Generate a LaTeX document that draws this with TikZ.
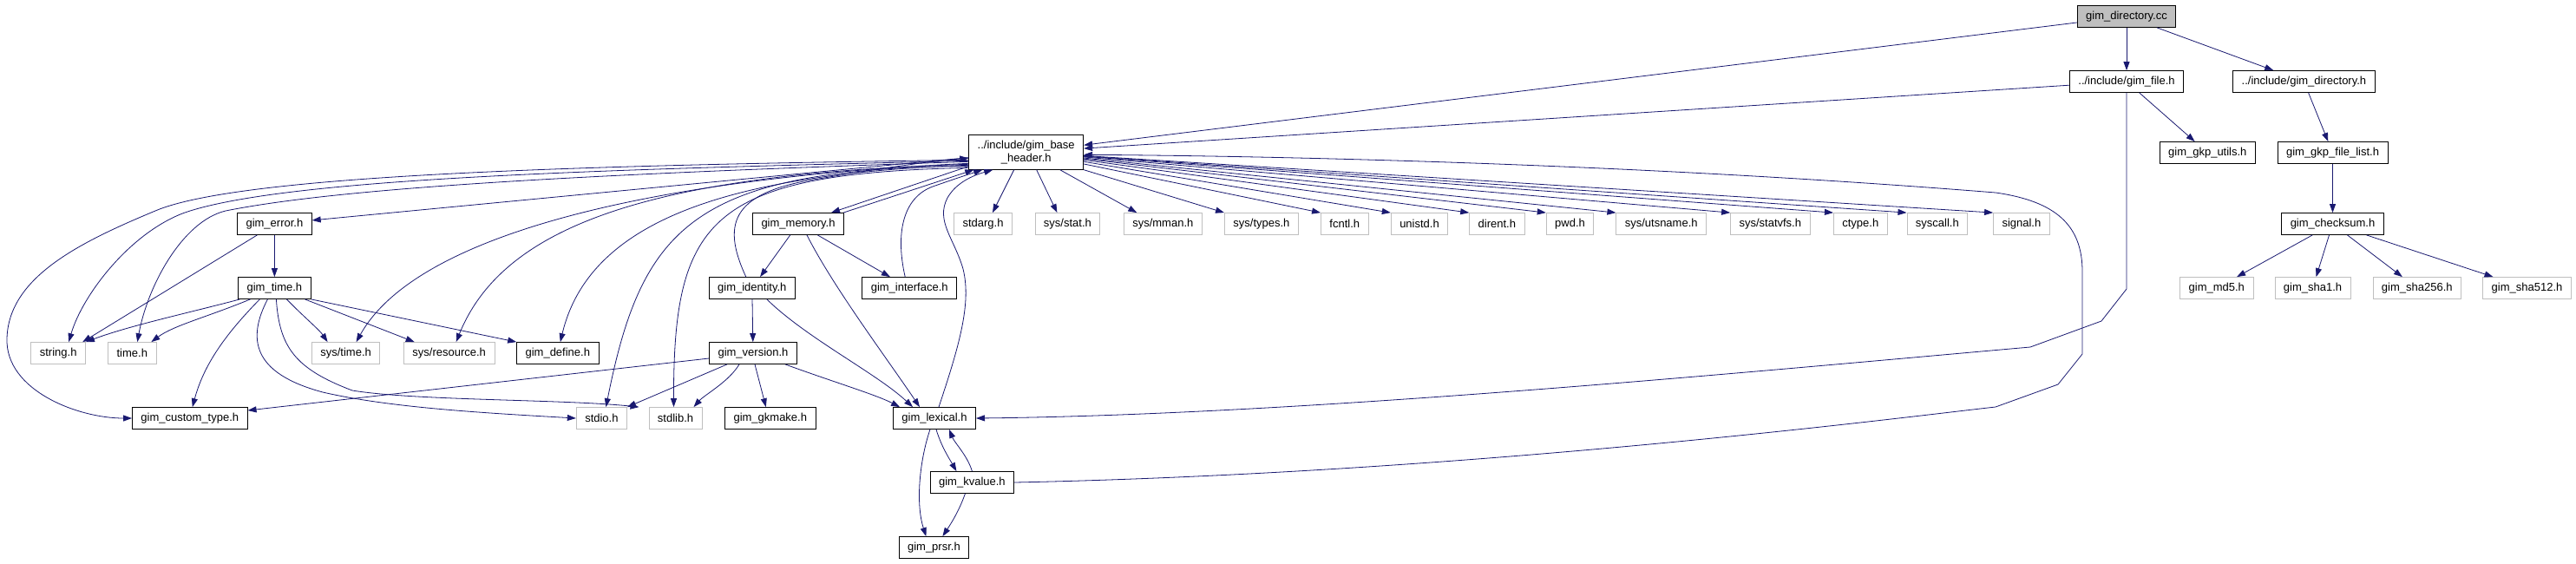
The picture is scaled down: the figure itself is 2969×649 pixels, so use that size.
\documentclass[tikz,border=0pt]{standalone}
\usepackage{fontspec}
\setmainfont{Liberation Sans}
\usetikzlibrary{arrows.meta}
\definecolor{edgeblue}{HTML}{191970}
\definecolor{grey75}{HTML}{BFBFBF}
\tikzset{
  hdr/.style={draw=black, line width=0.8pt, fill=white, inner xsep=10pt,
    inner ysep=0pt, minimum height=25pt, font=\fontsize{13}{15}\selectfont},
  syshdr/.style={hdr, draw=grey75},
  roothdr/.style={hdr, fill=grey75},
  dep/.style={draw=edgeblue, line width=0.8pt, -{Triangle[length=10pt,width=7pt]}},
}

\begin{document}
\begin{tikzpicture}[x=1pt,y=-1pt]
  \useasboundingbox (0,0) rectangle (2969,649);
  % Right part: the file itself and its own headers.
  \node[roothdr] (dircc) at (2451,19) {gim\_directory.cc};
  \node[hdr] (fileh) at (2451,94) {../include/gim\_file.h};
  \node[hdr] (dirh) at (2655.4,94) {../include/gim\_directory.h};
  \node[hdr] (gkputils) at (2544.3,176) {gim\_gkp\_utils.h};
  \node[hdr] (gkpfilelist) at (2688.5,176) {gim\_gkp\_file\_list.h};
  \node[hdr] (checksum) at (2688.5,258) {gim\_checksum.h};
  \node[syshdr] (md5) at (2554.8,332) {gim\_md5.h};
  \node[syshdr] (sha1) at (2665.5,332) {gim\_sha1.h};
  \node[syshdr] (sha256) at (2785.8,332) {gim\_sha256.h};
  \node[syshdr] (sha512) at (2912.5,332) {gim\_sha512.h};
  % The base header.
  \node[hdr, align=center, minimum height=40pt] (base) at (1182.7,175.3)
    {../include/gim\_base\\\_header.h};
  % Row under the base header.
  \node[hdr] (error) at (316.4,258) {gim\_error.h};
  \node[hdr] (memory) at (920,258) {gim\_memory.h};
  \node[syshdr] (stdarg) at (1133,258) {stdarg.h};
  \node[syshdr] (sysstat) at (1230.4,258) {sys/stat.h};
  \node[syshdr] (sysmman) at (1340.3,258) {sys/mman.h};
  \node[syshdr] (systypes) at (1453.9,258) {sys/types.h};
  \node[syshdr] (fcntl) at (1549.8,258) {fcntl.h};
  \node[syshdr] (unistd) at (1636,258) {unistd.h};
  \node[syshdr] (dirent) at (1725.3,258) {dirent.h};
  \node[syshdr] (pwd) at (1809.5,258) {pwd.h};
  \node[syshdr] (utsname) at (1914.7,258) {sys/utsname.h};
  \node[syshdr] (statvfs) at (2040.3,258) {sys/statvfs.h};
  \node[syshdr] (ctype) at (2144.3,258) {ctype.h};
  \node[syshdr] (syscall) at (2232.8,258) {syscall.h};
  \node[syshdr] (signal) at (2329.9,258) {signal.h};
  % Lower rows.
  \node[hdr] (gimtime) at (316.4,332) {gim\_time.h};
  \node[hdr] (identity) at (866.8,332) {gim\_identity.h};
  \node[hdr] (interface) at (1048.2,332) {gim\_interface.h};
  \node[syshdr] (stringh) at (67.2,407) {string.h};
  \node[syshdr] (timeh) at (152.3,407) {time.h};
  \node[syshdr] (systime) at (398.6,407) {sys/time.h};
  \node[syshdr] (sysres) at (517.7,407) {sys/resource.h};
  \node[hdr] (define) at (642.8,407) {gim\_define.h};
  \node[hdr] (version) at (868,407) {gim\_version.h};
  \node[hdr] (custom) at (218.8,482) {gim\_custom\_type.h};
  \node[syshdr] (stdio) at (693.4,482) {stdio.h};
  \node[syshdr] (stdlib) at (778.5,482) {stdlib.h};
  \node[hdr] (gkmake) at (887.8,482) {gim\_gkmake.h};
  \node[hdr] (lexical) at (1077,482) {gim\_lexical.h};
  \node[hdr] (kvalue) at (1120.4,556) {gim\_kvalue.h};
  \node[hdr] (prsr) at (1076.4,631) {gim\_prsr.h};

  % gim_directory.cc and the headers right of it.
  \draw[dep] (dircc) -- (base);
  \draw[dep] (dircc) -- (fileh);
  \draw[dep] (dircc) -- (dirh);
  \draw[dep] (fileh) -- (base);
  \draw[dep] (fileh) -- (gkputils);
  \draw[dep] (fileh.south) -- (2451,333) -- (2422,370) -- (2340,400)
    .. controls (2000,430) and (1500,478) .. (lexical.east);
  \draw[dep] (dirh) -- (gkpfilelist);
  \draw[dep] (gkpfilelist) -- (checksum);
  \foreach \n in {md5,sha1,sha256,sha512}
    \draw[dep] (checksum) -- (\n);

  % Base header to the system headers on its right.
  \draw[dep] ([xshift=-14pt]base.south) -- ([xshift=11pt]stdarg.north);
  \draw[dep] ([xshift=12pt]base.south) -- ([xshift=-12pt]sysstat.north);
  \draw[dep] ([xshift=39pt]base.south) -- ([xshift=-30pt]sysmman.north);
  \draw[dep] (base.south east) -- (systypes.north west);
  \foreach \n in {fcntl,unistd,dirent,pwd,utsname,statvfs,ctype,syscall,signal}
    \draw[dep] (base) -- (\n.north west);

  % Base header to the headers on its left.
  \draw[dep] ([yshift=-9pt]base.west) .. controls (700,190) and (280,200) .. (179,243)
    .. controls (90,280) and (10,320) .. (8,390)
    .. controls (6,450) and (90,482) .. (custom.west);
  \draw[dep] ([yshift=-10pt]base.west) .. controls (700,195) and (330,205) .. (213,245)
    .. controls (150,268) and (95,340) .. ([xshift=12pt]stringh.north);
  \draw[dep] ([yshift=-11pt]base.west) .. controls (700,200) and (400,215) .. (260,243)
    .. controls (210,255) and (170,330) .. ([xshift=6pt]timeh.north);
  \draw[dep] (base) -- (error);
  \draw[dep] ([yshift=-13pt]base.west) .. controls (750,205) and (480,270) .. ([xshift=12pt]systime.north);
  \draw[dep] ([yshift=-14pt]base.west) .. controls (750,200) and (580,260) .. ([xshift=8pt]sysres.north);
  \draw[dep] ([yshift=-15pt]base.west) .. controls (850,200) and (680,250) .. ([xshift=3pt]define.north);
  \draw[dep] ([yshift=-16pt]base.west) .. controls (800,195) and (740,260) .. ([xshift=5pt]stdio.north);
  \draw[dep] ([yshift=-18pt]base.west) .. controls (820,200) and (776,250) .. ([xshift=-2pt]stdlib.north);
  \draw[dep] ([yshift=4pt]base.south west) -- ([xshift=38pt]memory.north);

  % Headers that include the base header again.
  \draw[dep] ([xshift=52pt]memory.north) -- ([xshift=6pt]base.south west);
  \draw[dep] ([xshift=-5pt]interface.north) .. controls (1032,270) and (1040,228) .. (1075,215)
    .. controls (1095,208) and (1110,203) .. ([xshift=16pt]base.south west);
  \draw[dep] ([xshift=5pt]lexical.north) .. controls (1105,400) and (1120,350) .. (1110,310)
    .. controls (1100,275) and (1078,255) .. (1092,228)
    .. controls (1100,214) and (1115,204) .. ([xshift=28pt]base.south west);
  \draw[dep] ([xshift=-7pt]identity.north) .. controls (830,255) and (845,220) .. (950,205)
    .. controls (1020,193) and (1080,185) .. ([yshift=-7pt]base.west);
  \draw[dep] (kvalue.east) .. controls (1700,545) and (2200,480) .. (2300,469)
    -- (2372,443) -- (2400,408) -- (2400,313)
    .. controls (2400,260) and (2370,232) .. (2300,222)
    .. controls (1900,190) and (1500,180) .. ([yshift=-3pt]base.east);

  % gim_error.h and gim_time.h.
  \draw[dep] (error) -- (gimtime);
  \draw[dep] ([xshift=-20pt]error.south) -- ([xshift=28pt]stringh.north);
  \draw[dep] ([xshift=-40pt]gimtime.south) .. controls (220,360) and (150,375) .. (stringh.north east);
  \draw[dep] ([xshift=-28pt]gimtime.south) .. controls (240,365) and (200,375) .. ([xshift=-6pt]timeh.north east);
  \draw[dep] ([xshift=-17pt]gimtime.south) .. controls (260,385) and (235,420) .. ([xshift=3pt]custom.north);
  \draw[dep] ([xshift=-8pt]gimtime.south) .. controls (285,390) and (290,430) .. (372,452)
    .. controls (450,470) and (560,476) .. (stdio.west);
  \draw[dep] ([xshift=2pt]gimtime.south) .. controls (322,400) and (340,425) .. (406,450)
    .. controls (480,462) and (650,460) .. ([xshift=-42pt]stdlib.north);
  \draw[dep] ([xshift=14pt]gimtime.south) .. controls (350,365) and (368,380) .. ([xshift=-21pt]systime.north);
  \draw[dep] ([xshift=35pt]gimtime.south) -- ([xshift=-40pt]sysres.north);
  \draw[dep] (gimtime.south east) -- (define.north west);

  % gim_memory.h, gim_identity.h and gim_version.h.
  \draw[dep] (memory) -- (identity);
  \draw[dep] (memory) -- (interface);
  \draw[dep] ([xshift=10pt]memory.south) .. controls (960,330) and (1020,410) .. ([xshift=-17pt]lexical.north);
  \draw[dep] (identity) -- (version);
  \draw[dep] ([xshift=17pt]identity.south) .. controls (930,390) and (1010,430) .. ([xshift=-25pt]lexical.north);
  \draw[dep] ([yshift=-6pt]version.west) -- ([yshift=9pt]custom.east);
  \draw[dep] ([xshift=-30pt]version.south) -- (stdio.north east);
  \draw[dep] ([xshift=-16pt]version.south) .. controls (840,440) and (812,455) .. ([xshift=21pt]stdlib.north);
  \draw[dep] ([xshift=2pt]version.south) -- ([xshift=-5pt]gkmake.north);
  \draw[dep] ([xshift=37pt]version.south) .. controls (960,440) and (1010,455) .. ([xshift=8pt]lexical.north west);

  % gim_lexical.h, gim_kvalue.h and gim_prsr.h.
  \draw[dep] ([xshift=2pt]lexical.south) .. controls (1085,515) and (1095,530) .. ([xshift=-18pt]kvalue.north);
  \draw[dep] (kvalue.north) .. controls (1115,525) and (1100,510) .. ([xshift=17pt]lexical.south);
  \draw[dep] ([xshift=-5pt]lexical.south) .. controls (1060,530) and (1055,580) .. ([xshift=-9pt]prsr.north);
  \draw[dep] ([xshift=-8pt]kvalue.south) .. controls (1105,590) and (1095,605) .. ([xshift=10pt]prsr.north);
\end{tikzpicture}
\end{document}
